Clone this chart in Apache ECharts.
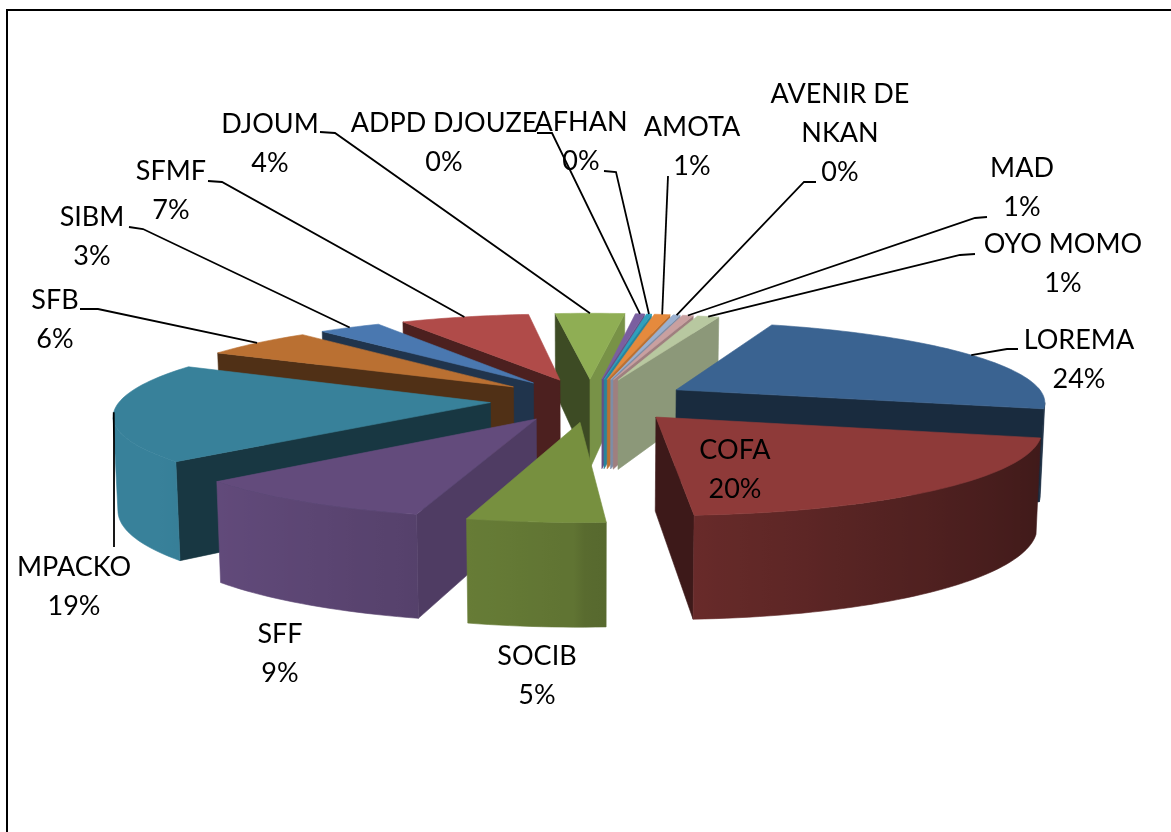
<!DOCTYPE html>
<html>
<head>
<meta charset="utf-8">
<style>html,body{margin:0;padding:0;background:#fff}#c{width:1171px;height:832px}</style>
<script src="https://cdn.jsdelivr.net/npm/echarts@6/dist/echarts.min.js"></script>
</head>
<body>
<div id="c"></div>
<script>
// ---------- data ----------
var categories = ['LOREMA','COFA','SOCIB','SFF','MPACKO','SFB','SIBM','SFMF','DJOUM','ADPD DJOUZE','AFHAN','AMOTA','AVENIR DE\nNKAN','MAD','OYO MOMO'];
var seriesValues = [23.6,20.22,5.06,9.36,19.47,5.69,3.2,6.56,3.52,0.46,0.26,0.8,0.36,0.55,1.1];
var sliceColors = ['#3A6391','#8E3A39','#77903F','#634B7C','#38819A','#BA7032','#4A78B0','#B04B49','#8FAE54','#7A5FA0','#2FA0BC','#E58A3D','#9AB0D0','#C9A0A0','#B8C8A0'];

// ---------- label placement (centre of the text block, leader start/elbow) ----------
var labelPlacement = [
  {x:1079,y:360,leader:[[1018,349],[1007,349]]},
  {x:735,y:470,leader:null},
  {x:537,y:676,leader:null},
  {x:280,y:654,leader:null},
  {x:74,y:587,leader:[[114,547],[114,440]]},
  {x:55,y:320,leader:[[80,309],[98,309]]},
  {x:92,y:237,leader:[[129,227],[143,229]]},
  {x:171,y:191,leader:[[208,181],[222,182]]},
  {x:270,y:144,leader:[[320,132],[335,133]]},
  {x:444,y:143,leader:[[537,133],[552,133]]},
  {x:581,y:142,leader:[[604,171],[616,172]]},
  {x:692,y:147,leader:[[668,176]]},
  {x:840,y:133,leader:[[816,182],[804,182]]},
  {x:1022,y:188,leader:[[987,217],[975,218]]},
  {x:1063,y:264,leader:[[975,254],[960,255]]}
];

// ---------- projection of the pie plane ----------
var cx = 590, cy = 400, Rx = 370, Ry = 80, persp = 0.135;
var firstAngle = 19, explode = 0.27;
var total = seriesValues.reduce(function(a,b){return a+b;},0);
var rad = Math.PI/180;

function thick(y){ return 92 - 10*y; }
function project(x,y,drop){
  var w = 1 + persp*y;
  var sx = cx + Rx*x/w, sy = cy - Ry*y/w;
  return [sx - (sx-cx)*0.01*drop, sy + thick(y)*drop];
}
function shadeColor(hex,f){
  var n = parseInt(hex.slice(1),16);
  var r=(n>>16)&255,g=(n>>8)&255,b=n&255;
  return 'rgb('+Math.round(r*f)+','+Math.round(g*f)+','+Math.round(b*f)+')';
}
function wallShade(nx){ return nx<0.75 ? 0.43 : 0.43 + 0.42*(nx-0.75)/0.25; }
function rimShade(sinT){ return sinT<0 ? Math.min(1,0.8-0.25*sinT) : 0.75-0.31*sinT; }

// slice geometry from values
var cum = 0;
var slices = seriesValues.map(function(v,i){
  var a1 = firstAngle + cum/total*360; cum += v;
  var a2 = firstAngle + cum/total*360;
  var mid = (a1+a2)/2;
  return {index:i,a1:a1,a2:a2,mid:mid,
    ox:explode*Math.sin(mid*rad),oy:explode*Math.cos(mid*rad)};
});
var drawOrder = slices.slice().sort(function(a,b){return b.oy-a.oy;}).map(function(s){return s.index;});

function poly(points,fill,stroke){
  return {type:'polygon',shape:{points:points},style:{fill:fill,stroke:stroke||fill,lineWidth:0.6},silent:true};
}
function renderSlice(params,api){
  var s = slices[api.value(0)], color = sliceColors[s.index], kids = [];
  function pt(t,drop){ return project(s.ox+Math.sin(t*rad),s.oy+Math.cos(t*rad),drop); }
  var apexT = project(s.ox,s.oy,0), apexB = project(s.ox,s.oy,1);
  var n = Math.max(2,Math.ceil((s.a2-s.a1)/1.5));
  var arc = [], i;
  for(i=0;i<=n;i++){ arc.push(s.a1+(s.a2-s.a1)*i/n); }
  var midT = pt(s.mid,0);
  function wall(t,nx){
    var r = pt(t,0);
    var ex = r[0]-apexT[0], ey = r[1]-apexT[1];
    var c1 = ex*(midT[1]-apexT[1]) - ey*(midT[0]-apexT[0]);
    var c2 = ex;
    if(c1*c2<0){ kids.push(poly([apexT,r,pt(t,1),apexB],shadeColor(color,wallShade(nx)))); }
  }
  wall(s.a1,-Math.cos(s.a1*rad));
  wall(s.a2,Math.cos(s.a2*rad));
  // outer rim: the facing part of the arc, shaded left to right with one gradient
  var vis = arc.filter(function(t,j){
    var a = pt(t,0), b = j<n ? pt(arc[j+1],0) : null, c = j>0 ? pt(arc[j-1],0) : null;
    return (b && b[0]<a[0]) || (c && a[0]<c[0]);
  });
  if(vis.length>1){
    var tops = vis.map(function(t){return pt(t,0);});
    var bots = vis.map(function(t){return pt(t,1);}).reverse();
    var xs = tops.map(function(p){return p[0];});
    var xMin = Math.min.apply(null,xs), xMax = Math.max.apply(null,xs);
    var stops = vis.map(function(t,j){
      return {offset:Math.min(1,Math.max(0,(xs[j]-xMin)/(xMax-xMin))),color:shadeColor(color,rimShade(Math.sin(t*rad)))};
    }).sort(function(a,b){return a.offset-b.offset;});
    var grad = {type:'linear',x:xMin,y:0,x2:xMax,y2:0,global:true,colorStops:stops};
    kids.push(poly(tops.concat(bots),grad,grad));
  }
  kids.push(poly([apexT].concat(arc.map(function(t){return pt(t,0);})),color));
  return {type:'group',children:kids};
}
function renderLabel(params,api){
  var i = api.value(0), s = slices[i], place = labelPlacement[i], kids = [];
  if(place.leader){
    var end = project(s.ox+Math.sin(s.mid*rad),s.oy+Math.cos(s.mid*rad),0);
    kids.push({type:'polyline',shape:{points:place.leader.concat([end])},
      style:{stroke:'#000',lineWidth:1.8,fill:null},silent:true});
  }
  var pct = Math.round(seriesValues[i]/total*100)+'%';
  kids.push({type:'text',silent:true,style:{x:place.x,y:place.y,text:categories[i]+'\n'+pct,
    fill:'#000',font:'27px Lato, "Open Sans", sans-serif',lineHeight:39,align:'center',verticalAlign:'middle'}});
  return {type:'group',children:kids};
}

var chart = echarts.init(document.getElementById('c'),null,{renderer:'canvas'});
chart.setOption({
  animation:false,
  backgroundColor:'#fff',
  graphic:[{type:'rect',shape:{x:7,y:10,width:1400,height:1000},
    style:{fill:'none',stroke:'#000',lineWidth:2},silent:true,z:-1}],
  series:[
    {type:'custom',coordinateSystem:'none',renderItem:renderSlice,silent:true,z:2,
     data:drawOrder.map(function(i){return [i];})},
    {type:'custom',coordinateSystem:'none',renderItem:renderLabel,silent:true,z:3,
     data:slices.map(function(s){return [s.index];})}
  ]
});
</script>
</body>
</html>
